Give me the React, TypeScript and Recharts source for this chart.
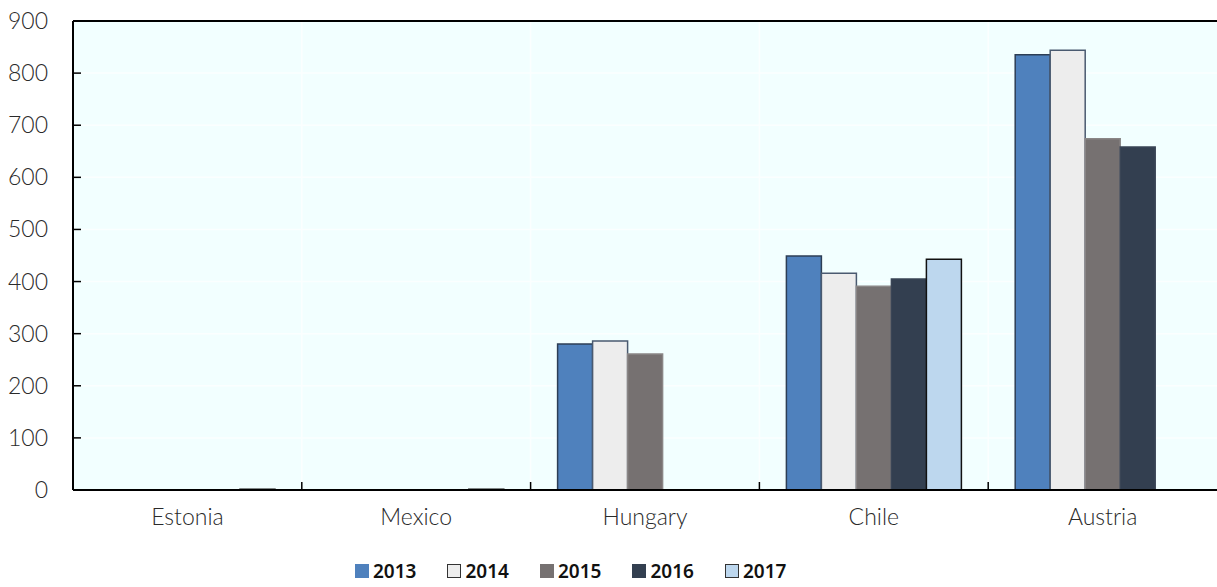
import { BarChart, Bar, XAxis, YAxis, CartesianGrid, Legend, ReferenceLine } from 'recharts';

const countries = ['Estonia', 'Mexico', 'Hungary', 'Chile', 'Austria'];
const years = ['2013', '2014', '2015', '2016', '2017'];

const v2013 = [0.6, 0.5, 280, 449, 835];
const v2014 = [0.4, 0.4, 286, 416, 844];
const v2015 = [0.4, 0.4, 261, 391, 674];
const v2016 = [0.5, 0.5, null, 405, 658];
const v2017 = [1.6, 1.6, null, 443, null];

const yTicks = [0, 100, 200, 300, 400, 500, 600, 700, 800, 900];

const fills = ['#4F81BD', '#EDEDED', '#767171', '#333F50', '#BDD7EE'];
const strokes = ['#2D3E55', '#4A5A70', '#8A8686', '#3A4556', '#111111'];

const data = countries.map((c, i) => ({
  country: c,
  '2013': v2013[i],
  '2014': v2014[i],
  '2015': v2015[i],
  '2016': v2016[i],
  '2017': v2017[i],
}));

const W = 1217;
const H = 587;
const LEFT = 73;
const PLOT_W = W - LEFT;
const TICK_FONT = 'Lato, Liberation Sans, sans-serif';

const YTick = (props: any) => {
  const { x, y, payload } = props;
  return (
    <g>
      <line x1={x} y1={y} x2={x + 8} y2={y} stroke="#000" strokeWidth={1.5} />
      <text x={x - 25} y={y} dy="0.35em" textAnchor="end" fill="#2a2a2a" fontSize={23} fontWeight={300} fontFamily={TICK_FONT}>
        {payload.value}
      </text>
    </g>
  );
};

const XTick = (props: any) => {
  const { x, y, payload, index } = props;
  const band = PLOT_W / countries.length;
  return (
    <g>
      {index > 0 && (
        <line x1={x - band / 2} y1={y} x2={x - band / 2} y2={y - 8} stroke="#000" strokeWidth={1.5} />
      )}
      <text x={x} y={y + 35} textAnchor="middle" fill="#2a2a2a" fontSize={23} fontWeight={300} fontFamily={TICK_FONT}>
        {payload.value}
      </text>
    </g>
  );
};

const LegendContent = () => (
  <div style={{ display: 'flex', height: 26, alignItems: 'center', paddingLeft: 355, marginTop: 4 }}>
    {years.map((yr, i) => (
      <div key={yr} style={{ display: 'flex', alignItems: 'center', marginRight: 31 }}>
        <span
          style={{
            display: 'inline-block',
            width: 12,
            height: 12,
            background: fills[i],
            border: `1px solid ${i === 1 || i === 4 ? '#333' : fills[i]}`,
            marginRight: 4,
          }}
        />
        <span style={{ fontFamily: 'Noto Sans, sans-serif', fontWeight: 600, fontSize: 19, lineHeight: '22px', color: '#111' }}>{yr}</span>
      </div>
    ))}
  </div>
);

export default function App() {
  return (
    <div style={{ position: 'absolute', left: 0, top: 0, width: W, height: H, background: '#fff' }}>
      <BarChart
        width={W}
        height={H}
        data={data}
        margin={{ top: 21, right: 0, left: 0, bottom: 0 }}
        barCategoryGap="11.8%"
        barGap={0}
      >
        <CartesianGrid
          fill="#F2FFFF"
          stroke="#fbffff"
          strokeWidth={1.5}
          verticalCoordinatesGenerator={({ offset }: any) =>
            countries.map((_, i) => offset.left + (offset.width / countries.length) * i).slice(1)
          }
        />
        <XAxis
          dataKey="country"
          height={64}
          tickSize={0}
          tickMargin={0}
          tickLine={false}
          axisLine={{ stroke: '#000', strokeWidth: 2 }}
          tick={<XTick />}
          interval={0}
        />
        <YAxis
          domain={[0, 900]}
          ticks={yTicks}
          width={LEFT}
          tickSize={0}
          tickMargin={0}
          tickLine={false}
          axisLine={{ stroke: '#000', strokeWidth: 2 }}
          tick={<YTick />}
          interval={0}
        />
        <ReferenceLine y={900} stroke="#000" strokeWidth={2} />
        {years.map((yr, i) => (
          <Bar
            key={yr}
            dataKey={yr}
            fill={fills[i]}
            stroke={strokes[i]}
            strokeWidth={1.5}
            isAnimationActive={false}
          />
        ))}
        <Legend verticalAlign="bottom" content={<LegendContent />} wrapperStyle={{ height: 33, left: 0, width: W }} />
      </BarChart>
    </div>
  );
}
